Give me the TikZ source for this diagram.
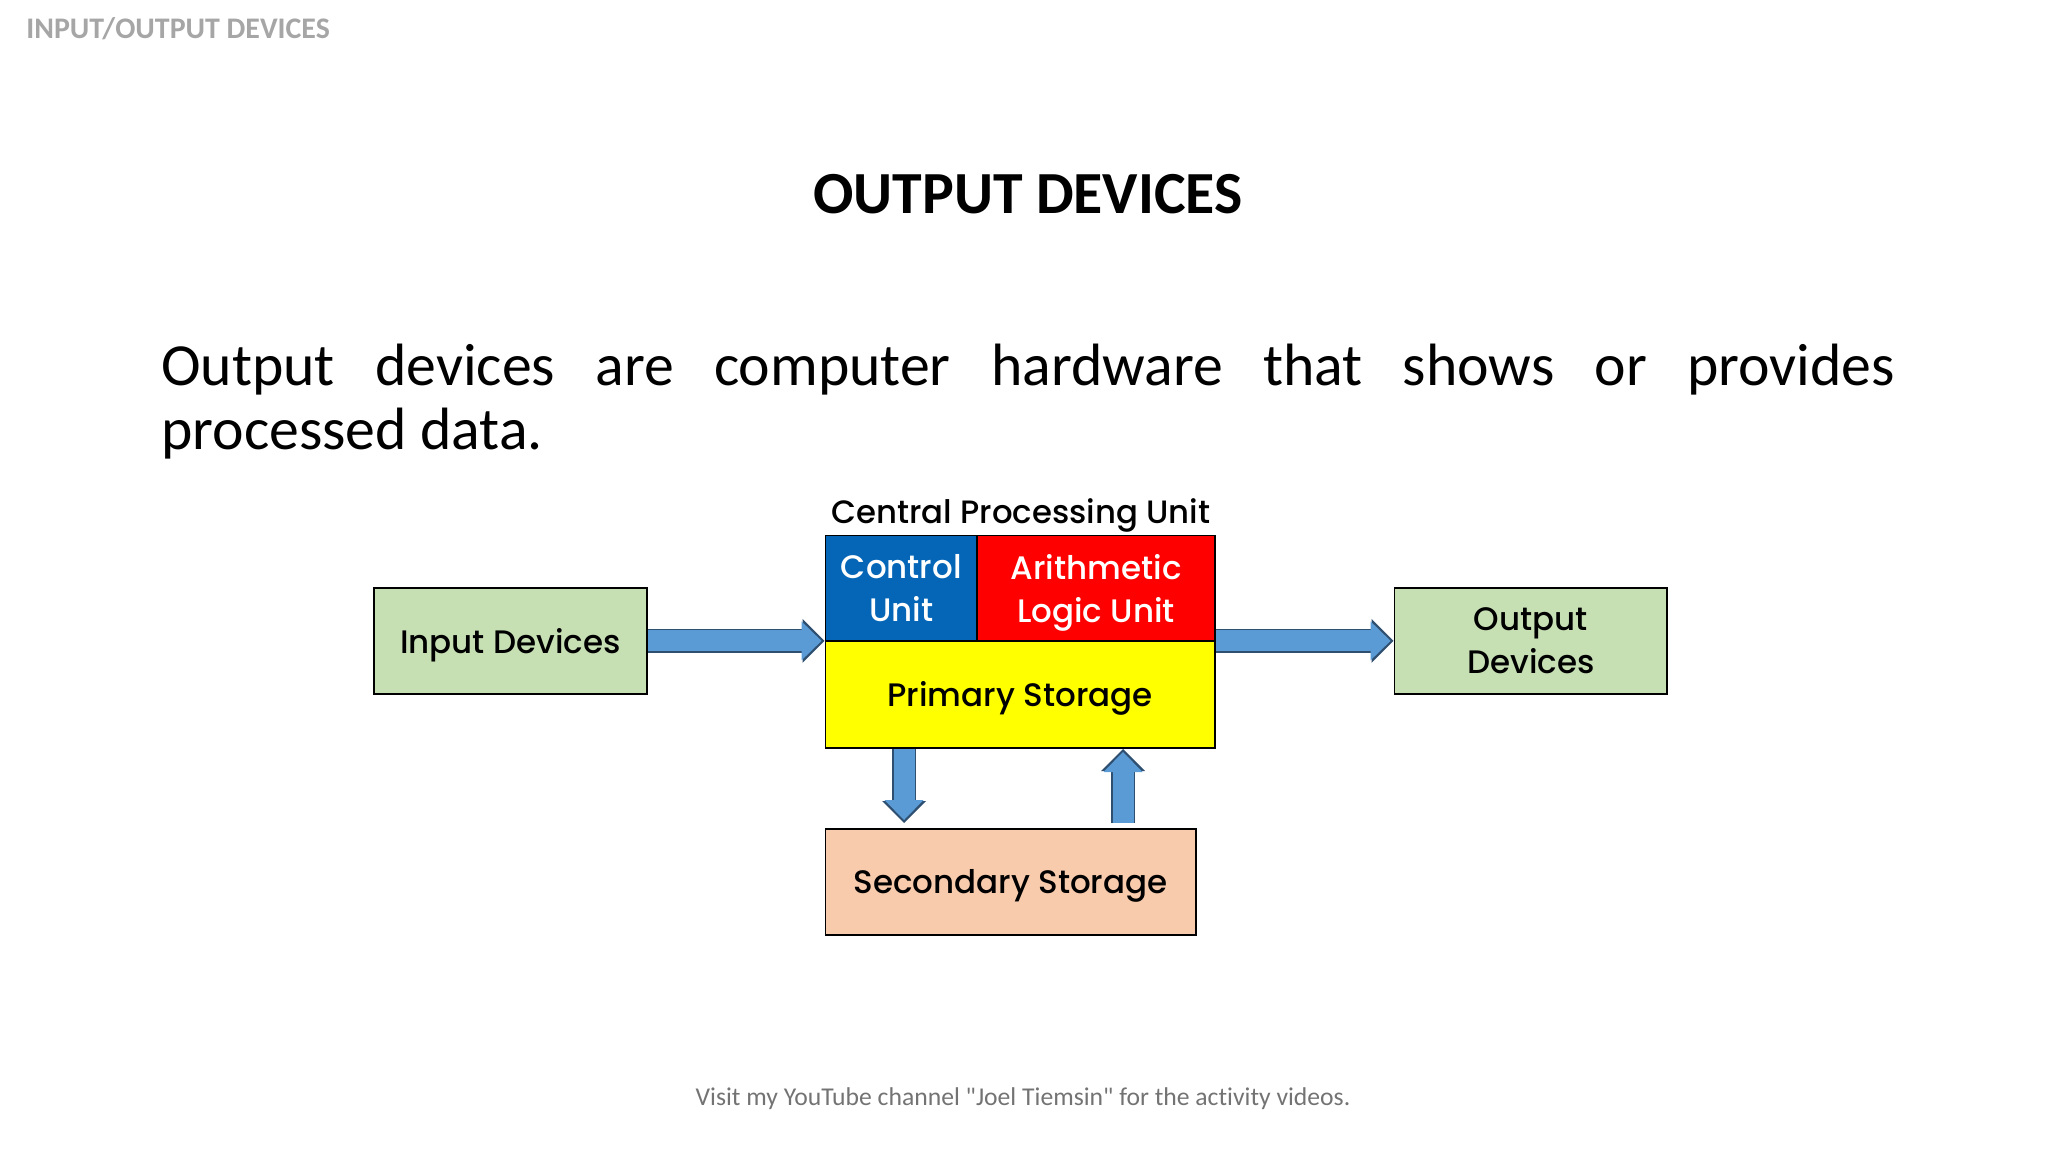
\documentclass[tikz,border=0pt]{standalone}
\usepackage{fontspec}
\setmainfont{Carlito}
\newfontfamily\gothic{Poppins Medium}
\newfontfamily\footfont[Ligatures=NoCommon]{Carlito}
\usetikzlibrary{positioning,arrows.meta}
\definecolor{devgreen}{HTML}{C6E0B4}
\definecolor{peach}{HTML}{F8CBAD}
\definecolor{ctrlblue}{HTML}{0566B8}
\definecolor{alured}{HTML}{FF0000}
\definecolor{storeyellow}{HTML}{FFFF00}
\definecolor{flowblue}{HTML}{5B9BD5}
\definecolor{flowedge}{HTML}{2F4F70}
\tikzset{
  box/.style={draw=black,line width=0.035cm,inner sep=0pt,align=center,anchor=north west,text depth=0pt,
    font=\gothic\fontsize{18.5}{24.5}\selectfont},
  flow/.style={draw=flowblue,line width=0.42cm,shorten >=0.06cm,
    -{Triangle[length=0.4cm,width=0.78cm,line width=0pt]},
    preaction={draw=flowedge,line width=0.48cm,shorten >=0pt,
      -{Triangle[length=0.44cm,width=0.88cm,line width=0pt]}}},
}
\begin{document}
\begin{tikzpicture}[x=0.02cm,y=-0.02cm]
\useasboundingbox (0,0) rectangle (2048,1152);
\node[anchor=west,inner sep=0pt,text=black!35,font=\bfseries\fontsize{17}{20}\selectfont] (header) at (26,29) {INPUT/OUTPUT DEVICES};
\node[font=\bfseries\fontsize{34}{40}\selectfont] (title) at (1028,194) {OUTPUT DEVICES};
\node[anchor=north west,inner sep=0pt,text width=34.68cm,align=justify,font=\fontsize{34}{36.5}\selectfont] (body) at (161,344)
  {Output devices are computer hardware that shows or provides\linebreak processed data.};
\node[font=\gothic\fontsize{18.4}{24.5}\selectfont] (cpulabel) at (1021,515) {Central Processing Unit};
% cpu block
\node[box,fill=ctrlblue,text=white,minimum width=3.04cm,minimum height=2.11cm] (ctrl) at (824.5,534.5) {Control\\Unit};
\node[box,fill=alured,text=white,minimum width=4.75cm,minimum height=2.11cm] (alu) at (976.5,534.5) {Arithmetic\\Logic Unit};
\node[box,fill=storeyellow,minimum width=7.79cm,minimum height=2.14cm] (primary) at (824.5,640) {Primary Storage};
% outer boxes
\node[box,fill=devgreen,minimum width=5.46cm,minimum height=2.12cm] (input) at (373,587) {Input Devices};
\node[box,fill=devgreen,minimum width=5.46cm,minimum height=2.12cm] (output) at (1393.5,587) {Output\\Devices};
\node[box,fill=peach,minimum width=7.41cm,minimum height=2.12cm] (secondary) at (824.5,828) {Secondary Storage};
\node[text=black!55,font=\footfont\fontsize{14.6}{18}\selectfont] (footer) at (1023,1099) {Visit my YouTube channel "Joel Tiemsin" for the activity videos.};
\coordinate (downtop) at (904,749);
\coordinate (downtip) at (904,823);
\coordinate (uptail) at (1123,823);
\coordinate (uptip) at (1123,749);
\draw[flow] (input.east) -- (input.east -| ctrl.west);
\draw[flow] (output.west -| alu.east) -- (output.west);
\draw[flow] (downtop) -- (downtip);
\draw[flow] (uptail) -- (uptip);
\end{tikzpicture}
\end{document}
